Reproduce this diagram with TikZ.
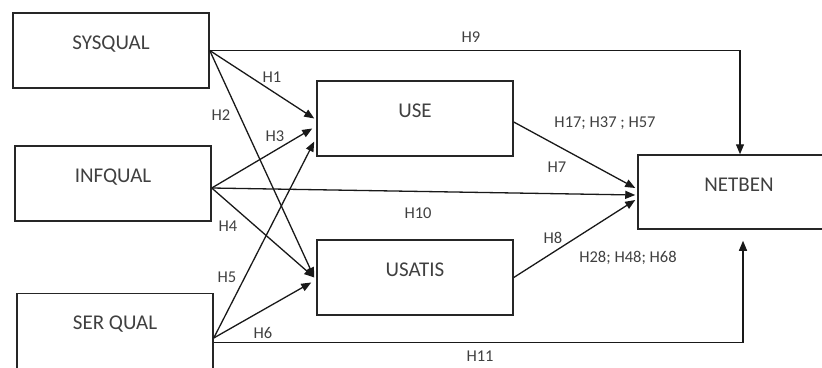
\documentclass[tikz,border=0pt]{standalone}
\usepackage{fontspec}
\setmainfont{Carlito}
\usetikzlibrary{arrows.meta}
\begin{document}
\begin{tikzpicture}[x=1pt,y=-1pt,
  box/.style={draw=black!85, line width=1.5pt, minimum width=196pt, minimum height=75pt,
    inner sep=0pt, text height=36pt, text depth=39pt, font=\fontsize{21}{21}\selectfont, text=black!75},
  lab/.style={font=\fontsize{16.5}{16.5}\selectfont, text=black!75, inner sep=1pt},
  conn/.style={draw=black!90, line width=1.3pt, -{Triangle[length=10pt,width=8pt]}},
  plain/.style={draw=black!85, line width=1.3pt}]
\useasboundingbox (0,0) rectangle (822,367);
% boxes
\node[box] (sys) at (111,50.5) {SYSQUAL};
\node[box] (inf) at (113,183.5) {INFQUAL};
\node[box] (ser) at (115,331) {SER QUAL};
\node[box] (use) at (415,118.5) {USE};
\node[box] (usat) at (415,277.5) {USATIS};
\node[box, minimum width=202pt, minimum height=74pt, text depth=38pt] (net) at (739,192) {NETBEN};
% exit points
\coordinate (infx) at ([yshift=-4.5pt]inf.east);
\coordinate (serx) at ([yshift=-7pt]ser.east);
\coordinate (serh) at ([yshift=-11.5pt]ser.east);
\coordinate (netb) at ([xshift=4pt,yshift=-11pt]net.south);
% connectors
\draw[conn] (sys.east) -| ([xshift=1pt]net.north);
\draw[conn] (sys.east) -- ([xshift=-2pt]use.west);
\draw[conn] (sys.east) -- ([xshift=-2pt]usat.west);
\draw[conn] (infx) -- ([xshift=-4pt,yshift=-10pt]use.west);
\draw[conn] (infx) -- ([xshift=-2pt]usat.west);
\draw[conn] (infx) -- ([xshift=-2pt,yshift=-3pt]net.west);
\draw[conn] (serx) -- ([xshift=-2pt,yshift=-23pt]use.west);
\draw[conn] (serx) -- ([xshift=-5pt,yshift=-5pt]usat.west);
\draw[conn] (serh) -| (netb);
\draw[conn] ([yshift=-3.5pt]use.east) -- ([xshift=-2pt,yshift=4pt]net.west);
\draw[conn] (usat.east) -- ([xshift=-2pt,yshift=-8pt]net.west);
% labels
\node[lab] (l9) at (471,37) {H9};
\node[lab] (l1) at (272,77) {H1};
\node[lab] (l2) at (221,115) {H2};
\node[lab] (l3) at (275,136) {H3};
\node[lab] (l4) at (228,226) {H4};
\node[lab] (l5) at (227,277) {H5};
\node[lab] (l6) at (263,333) {H6};
\node[lab] (l10) at (418,213) {H10};
\node[lab] (l11) at (480,356) {H11};
\node[lab] (l17) at (605,123) {H17; H37 ; H57};
\node[lab] (l7) at (557,167) {H7};
\node[lab] (l8) at (553,238) {H8};
\node[lab] (l28) at (628,258) {H28; H48; H68};
\end{tikzpicture}
\end{document}
